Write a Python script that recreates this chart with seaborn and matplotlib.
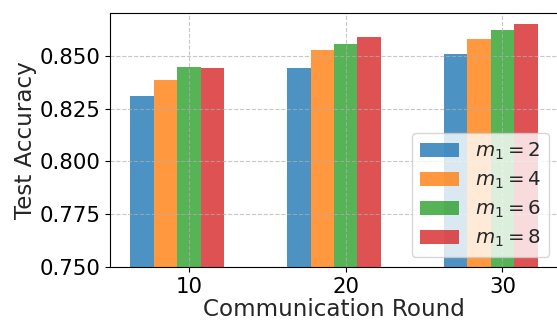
import matplotlib
matplotlib.use("Agg")
import matplotlib.pyplot as plt
import seaborn as sns
import pandas as pd
from matplotlib.ticker import FormatStrFormatter

# Test accuracy per communication round for each value of m1
rounds = [10, 20, 30]
m1_values = [2, 4, 6, 8]
acc_m1_2 = [0.8310, 0.8440, 0.8510]
acc_m1_4 = [0.8383, 0.8528, 0.8577]
acc_m1_6 = [0.8445, 0.8553, 0.8620]
acc_m1_8 = [0.8440, 0.8590, 0.8648]
series = [acc_m1_2, acc_m1_4, acc_m1_6, acc_m1_8]
labels = [f"$m_1 = {m}$" for m in m1_values]

sns.set_style("ticks")
plt.rcParams["font.family"] = ["DejaVu Sans"]

TICK_FS = 15.3
LABEL_FS = 16.6
LEGEND_FS = 14.2

# Bars in each group are placed so the third series sits on the tick
group_width = 0.6
spacing = rounds[1] - rounds[0]
bar_w = group_width * spacing / len(series)
shift = -bar_w / 2

rows = []
for lab, vals in zip(labels, series):
    for r, v in zip(rounds, vals):
        rows.append({"pos": r + shift, "acc": v, "setting": lab})
df = pd.DataFrame(rows)

fig = plt.figure(figsize=(5.57, 3.2), dpi=100)
ax = fig.add_axes([110 / 557, 52.7 / 320, 448 / 557, 254 / 320])

palette = ["#1f77b4", "#ff7f0e", "#2ca02c", "#d62728"]
sns.barplot(data=df, x="pos", y="acc", hue="setting", hue_order=labels,
            native_scale=True, width=group_width, dodge=True,
            palette=palette, saturation=1, alpha=0.8, linewidth=0,
            edgecolor="none", ax=ax, legend=True)

# x range: bar extent plus a 5% margin on each side
lo = rounds[0] + shift - group_width * spacing / 2
hi = rounds[-1] + shift + group_width * spacing / 2
pad = 0.05 * (hi - lo)
ax.set_xlim(lo - pad, hi + pad)
ax.set_ylim(0.75, 0.87)
ax.set_xticks(rounds)
ax.set_xticklabels([str(r) for r in rounds])
ax.set_yticks([0.75, 0.775, 0.8, 0.825, 0.85])
ax.yaxis.set_major_formatter(FormatStrFormatter("%.3f"))
ax.tick_params(labelsize=TICK_FS, colors="black")

ax.set_axisbelow("line")
ax.grid(True, linestyle="--", color="#b0b0b0", linewidth=0.8, alpha=0.7)

for s in ax.spines.values():
    s.set_visible(True)
    s.set_color("black")
    s.set_linewidth(0.8)

ax.set_xlabel("Communication Round", fontsize=LABEL_FS, labelpad=1)
ax.set_ylabel("Test Accuracy", fontsize=LABEL_FS, labelpad=1.5)

handles, labs = ax.get_legend_handles_labels()
ax.legend(handles, labs, loc="lower right", fontsize=LEGEND_FS,
          bbox_to_anchor=(549 / 557, (320 - 256.7) / 320),
          bbox_transform=fig.transFigure, borderaxespad=0,
          labelspacing=0.38, handletextpad=0.8,
          frameon=True, framealpha=0.8, edgecolor="#cccccc", fancybox=True)

fig.savefig("out.png", dpi=100)
